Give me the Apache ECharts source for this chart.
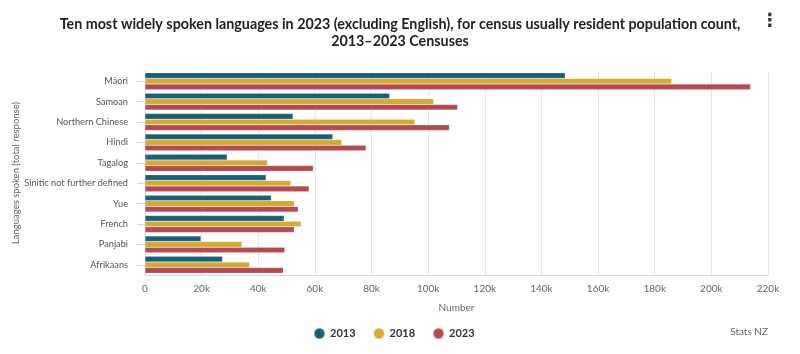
<!DOCTYPE html>
<html>
<head>
<meta charset="utf-8">
<script src="https://cdn.jsdelivr.net/npm/echarts@6/dist/echarts.min.js"></script>
<style>
  html, body { margin: 0; padding: 0; background: #fff; }
  #chart { width: 800px; height: 354px; }
</style>
</head>
<body>
<div id="chart"></div>
<script>
// languages, top to bottom
var languages = ['Māori', 'Samoan', 'Northern Chinese', 'Hindi', 'Tagalog',
  'Sinitic not further defined', 'Yue', 'French', 'Panjabi', 'Afrikaans'];
var census2013 = [148395, 86403, 52263, 66309, 29016, 42750, 44625, 49125, 19752, 27387];
var census2018 = [185955, 101937, 95253, 69471, 43278, 51501, 52767, 55116, 34227, 36966];
var census2023 = [213849, 110397, 107508, 78039, 59457, 57942, 54093, 52719, 49380, 48855];
var xTicks = [0, 20000, 40000, 60000, 80000, 100000, 120000, 140000, 160000, 180000, 200000, 220000];

var font = 'Lato, "Open Sans", sans-serif';
var colors = ['#1a5e78', '#d4ab2f', '#b5494f'];

var myChart = echarts.init(document.getElementById('chart'));

function bar(name, data, i) {
  return {
    name: name,
    type: 'bar',
    data: data,
    barGap: '0%',
    barCategoryGap: '17%',
    itemStyle: { color: colors[i], borderColor: 'rgba(255,255,255,0.35)', borderWidth: 0.5 }
  };
}

var option = {
  animation: false,
  color: colors,
  textStyle: { fontFamily: font },
  title: {
    text: 'Ten most widely spoken languages in 2023 (excluding English), for census usually resident population count,\n2013–2023 Censuses',
    left: 'center',
    top: 11,
    textStyle: { fontSize: 14.3, fontWeight: 'bold', color: '#222', lineHeight: 17, fontFamily: font }
  },
  legend: {
    top: 322,
    left: 308,
    icon: 'circle',
    itemWidth: 11,
    itemHeight: 11,
    itemGap: 17,
    textStyle: { fontSize: 11, fontWeight: 'bold', color: '#333', fontFamily: font },
    data: ['2013', '2018', '2023']
  },
  grid: { left: 145, right: 32, top: 71, bottom: 79, containLabel: false, outerBoundsMode: 'none' },
  xAxis: {
    type: 'value',
    min: 0,
    max: 220000,
    interval: 20000,
    name: 'Number',
    nameLocation: 'middle',
    nameGap: 28,
    nameTextStyle: { fontSize: 10, color: '#666' },
    axisLine: { show: true, lineStyle: { color: '#ccd6eb' } },
    axisTick: { show: false },
    axisLabel: {
      fontSize: 10, color: '#666', margin: 9,
      formatter: function (v) { return xTicks.indexOf(v) < 0 ? '' : (v === 0 ? '0' : v / 1000 + 'k'); }
    },
    splitLine: { show: true, lineStyle: { color: '#e6e6e6' } }
  },
  yAxis: {
    type: 'category',
    inverse: true,
    data: languages,
    name: 'Languages spoken (total response)',
    nameLocation: 'middle',
    nameGap: 124,
    nameRotate: 90,
    nameMoveOverlap: false,
    nameTextStyle: { fontSize: 9.5, color: '#666' },
    axisLine: { show: true, lineStyle: { color: '#ccd6eb' } },
    axisTick: { show: true, alignWithLabel: true, length: 8, lineStyle: { color: '#ccd6eb' } },
    axisLabel: { fontSize: 9.2, color: '#555', margin: 17 }
  },
  series: [
    bar('2013', census2013, 0),
    bar('2018', census2018, 1),
    bar('2023', census2023, 2)
  ],
  graphic: [
    { type: 'text', left: 761, top: 12, style: { text: '⋮', fontSize: 18, fontWeight: 'bold', fill: '#333', fontFamily: 'DejaVu Sans' } },
    { type: 'text', right: 32, top: 327, style: { text: 'Stats NZ', fontSize: 10, fill: '#666', fontFamily: font } }
  ]
};

myChart.setOption(option);
</script>
</body>
</html>
